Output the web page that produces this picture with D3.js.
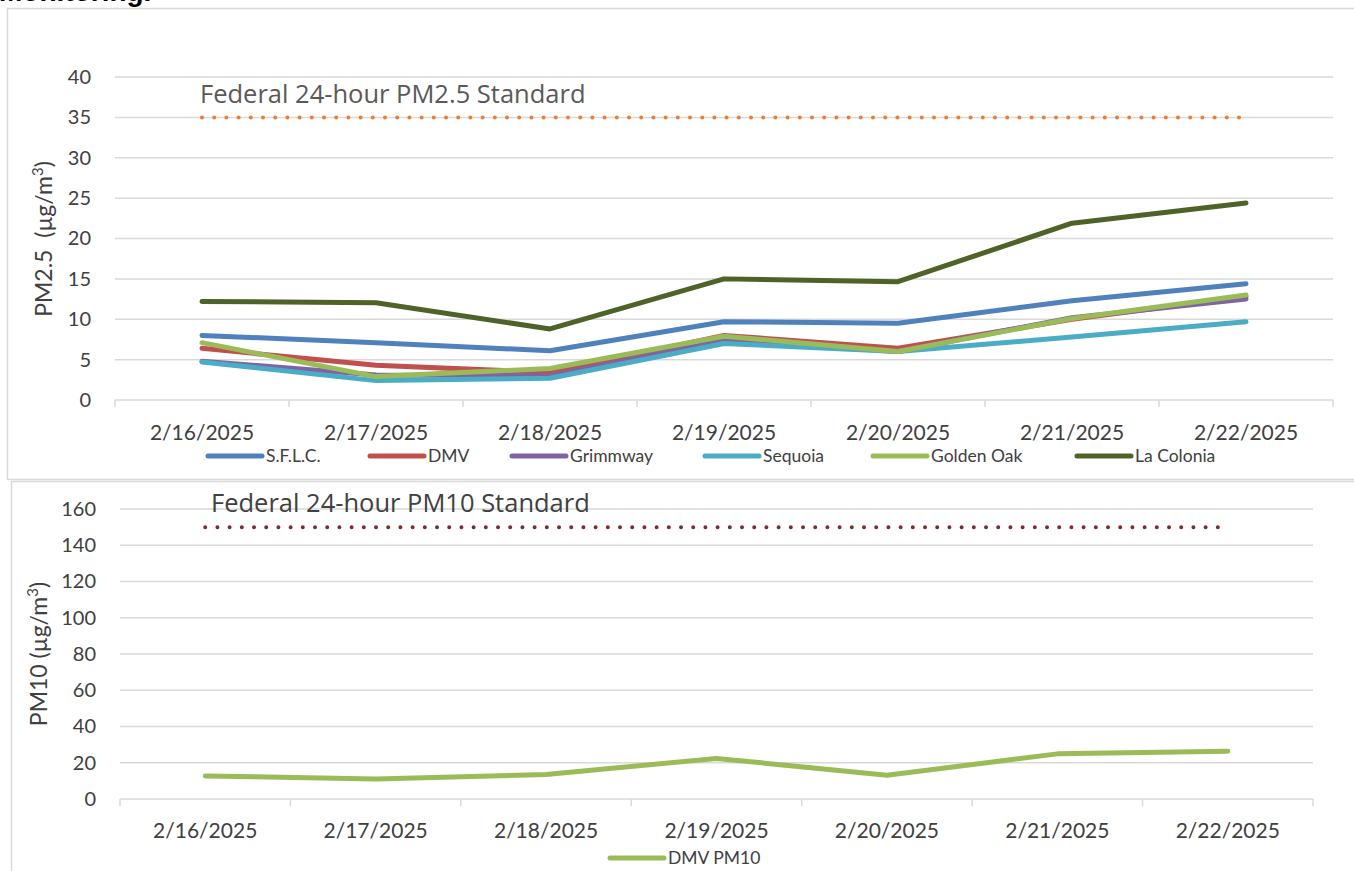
<!DOCTYPE html>
<html>
<head>
<meta charset="utf-8">
<script src="https://cdn.jsdelivr.net/npm/d3@7"></script>
<style>
  html, body { margin: 0; padding: 0; background: #fff; }
  svg { display: block; font-family: Lato, "Open Sans", "Liberation Sans", sans-serif; }
  .pre { white-space: pre; }
</style>
</head>
<body>
<svg id="chart" width="1354" height="871"></svg>
<script>
// ---------- DATA ----------
const dates = ["2/16/2025", "2/17/2025", "2/18/2025", "2/19/2025", "2/20/2025", "2/21/2025", "2/22/2025"];
const seriesNames = ["S.F.L.C.", "DMV", "Grimmway", "Sequoia", "Golden Oak", "La Colonia"];
const sflc      = [8.0, 7.1, 6.1, 9.7, 9.5, 12.3, 14.4];
const dmv       = [6.4, 4.3, 3.4, 8.0, 6.4, 10.0, 12.8];
const grimmway  = [4.8, 3.1, 3.0, 7.4, 6.0, 10.2, 12.5];
const sequoia   = [4.7, 2.4, 2.7, 7.0, 6.0, 7.8, 9.7];
const goldenOak = [7.1, 2.9, 3.9, 7.9, 6.0, 10.1, 13.0];
const laColonia = [12.2, 12.05, 8.8, 15.0, 14.65, 21.9, 24.4];
const dmvPm10   = [12.7, 11.1, 13.5, 22.4, 13.1, 24.9, 26.4];
const pm25Ticks = [0, 5, 10, 15, 20, 25, 30, 35, 40];
const pm10Ticks = [0, 20, 40, 60, 80, 100, 120, 140, 160];
const pm25Standard = 35;
const pm10Standard = 150;
const pm25StandardLabel = "Federal 24-hour PM2.5 Standard";
const pm10StandardLabel = "Federal 24-hour PM10 Standard";
const pm10SeriesName = "DMV PM10";

// ---------- STYLE ----------
const colors = ["#4F81BD", "#C0504D", "#8064A2", "#4BACC6", "#9BBB59", "#4F6228"];
const pm10Color = "#9BBB59";
const gridColor = "#d9d9d9";
const textColor = "#404040";

const svg = d3.select("#chart");

// cut-off heading text at very top
svg.append("text").attr("x", -1).attr("y", 0.5)
  .attr("font-family", "'Liberation Sans', Arial, sans-serif")
  .attr("font-size", 28).attr("font-weight", "bold").attr("fill", "#000")
  .text("Monitoring.");

// frames
svg.append("rect").attr("x", 7.5).attr("y", 8.5).attr("width", 1400).attr("height", 471)
  .attr("fill", "none").attr("stroke", gridColor).attr("stroke-width", 1.5);
svg.append("path").attr("d", "M11.5,900 V481.5 H1400")
  .attr("fill", "none").attr("stroke", gridColor).attr("stroke-width", 1.5);

function drawChart(opts) {
  const g = svg.append("g");
  const x = d3.scaleBand().domain(dates).range(opts.xRange).paddingInner(0).paddingOuter(0);
  const y = d3.scaleLinear().domain(d3.extent(opts.ticks)).range(opts.yRange);

  // gridlines
  g.append("g").selectAll("line").data(opts.ticks).join("line")
    .attr("x1", opts.xRange[0]).attr("x2", opts.xRange[1])
    .attr("y1", d => y(d)).attr("y2", d => y(d))
    .attr("stroke", gridColor).attr("stroke-width", 1.5);

  // y axis labels
  const yAxis = g.append("g").attr("transform", `translate(${opts.xRange[0] - 24},0)`)
    .call(d3.axisLeft(y).tickValues(opts.ticks).tickSize(0).tickPadding(0));
  yAxis.select(".domain").remove();
  yAxis.selectAll("text").attr("font-family", "Lato, 'Open Sans', sans-serif")
    .attr("font-size", 20).attr("fill", textColor);

  // x tick marks at band boundaries
  const bounds = dates.map(d => x(d)).concat([x(dates[dates.length - 1]) + x.bandwidth()]);
  g.append("g").selectAll("line").data(bounds).join("line")
    .attr("x1", d => d).attr("x2", d => d)
    .attr("y1", y(0)).attr("y2", y(0) + 7)
    .attr("stroke", gridColor).attr("stroke-width", 1.5);

  // x labels
  const xAxis = g.append("g").attr("transform", `translate(0,${y(0) + opts.xLabelOffset})`)
    .call(d3.axisBottom(x).tickSize(0).tickPadding(0));
  xAxis.select(".domain").remove();
  xAxis.selectAll("text").attr("font-family", "Lato, 'Open Sans', sans-serif")
    .attr("font-size", 21).attr("fill", textColor);

  // standard line
  const cx = d => x(d) + x.bandwidth() / 2;
  g.append("line")
    .attr("x1", cx(dates[0])).attr("x2", cx(dates[dates.length - 1]))
    .attr("y1", y(opts.standard)).attr("y2", y(opts.standard))
    .attr("stroke", opts.standardColor).attr("stroke-width", 4)
    .attr("stroke-linecap", "round").attr("stroke-dasharray", "0 12.2");
  g.append("text").attr("x", opts.stdLabelPos[0]).attr("y", opts.stdLabelPos[1])
    .attr("font-family", "'Open Sans', Lato, sans-serif")
    .attr("font-size", 25.5).attr("fill", opts.stdLabelColor).text(opts.standardLabel);

  // y title
  const t = g.append("text").attr("class", "pre")
    .attr("transform", `translate(${opts.yTitlePos[0]},${opts.yTitlePos[1]}) rotate(-90)`)
    .attr("text-anchor", "middle")
    .attr("font-family", "Lato, 'Open Sans', sans-serif")
    .attr("font-size", 23).attr("fill", textColor);
  t.append("tspan").text(opts.yTitle[0]);
  t.append("tspan").attr("font-size", 15).attr("dy", -9).text("3");
  t.append("tspan").attr("dy", 9).text(")");

  // series
  const line = d3.line().x((d, i) => cx(dates[i])).y(d => y(d));
  opts.series.forEach(s => {
    g.append("path").datum(s.values).attr("d", line)
      .attr("fill", "none").attr("stroke", s.color).attr("stroke-width", 5)
      .attr("stroke-linecap", "round").attr("stroke-linejoin", "round");
  });

  // legend
  opts.series.forEach((s, i) => {
    const lx = opts.legendX[i];
    g.append("line").attr("x1", lx).attr("x2", lx + 54)
      .attr("y1", opts.legendY).attr("y2", opts.legendY)
      .attr("stroke", s.color).attr("stroke-width", 5).attr("stroke-linecap", "round");
    g.append("text").attr("x", lx + 58).attr("y", opts.legendY + 6)
      .attr("font-family", "Lato, 'Open Sans', sans-serif")
      .attr("font-size", 17.5).attr("fill", textColor).text(s.name);
  });
}

const topValues = [sflc, dmv, grimmway, sequoia, goldenOak, laColonia];
drawChart({
  xRange: [115, 1333], yRange: [400, 77], ticks: pm25Ticks,
  xLabelOffset: 25,
  standard: pm25Standard, standardColor: "#ED7D31", standardLabel: pm25StandardLabel,
  stdLabelPos: [200, 103], stdLabelColor: "#595959",
  yTitle: ["PM2.5  (µg/m"], yTitlePos: [52, 239],
  series: seriesNames.map((n, i) => ({ name: n, values: topValues[i], color: colors[i] })),
  legendX: [208, 370, 512, 705, 873, 1077], legendY: 456
});

drawChart({
  xRange: [120, 1313], yRange: [799, 509], ticks: pm10Ticks,
  xLabelOffset: 24,
  standard: pm10Standard, standardColor: "#7F2B2B", standardLabel: pm10StandardLabel,
  stdLabelPos: [211, 512], stdLabelColor: "#404040",
  yTitle: ["PM10 (µg/m"], yTitlePos: [47, 654],
  series: [{ name: pm10SeriesName, values: dmvPm10, color: pm10Color }],
  legendX: [610], legendY: 858
});
</script>
</body>
</html>
